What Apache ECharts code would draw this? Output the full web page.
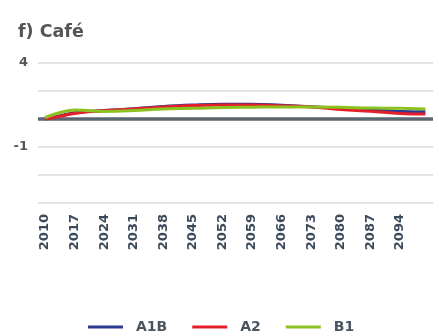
<!DOCTYPE html>
<html>
<head>
<meta charset="utf-8">
<script src="https://cdn.jsdelivr.net/npm/echarts@6/dist/echarts.min.js"></script>
<style>
  html, body { margin: 0; padding: 0; background: #ffffff; }
  #chart { width: 439px; height: 336px; }
</style>
</head>
<body>
<div id="chart"></div>
<script>
// Sample years for each scenario curve
const years = [2010, 2014, 2017, 2020, 2024, 2031, 2038, 2045, 2052, 2059, 2066, 2073, 2080, 2087, 2094, 2100];

// Scenario curves (relative to the baseline)
const a1b = [0.00, 0.13, 0.22, 0.27, 0.30, 0.37, 0.45, 0.50, 0.53, 0.53, 0.49, 0.44, 0.38, 0.32, 0.27, 0.26];
const a2  = [0.00, 0.11, 0.20, 0.26, 0.30, 0.36, 0.43, 0.48, 0.50, 0.50, 0.47, 0.43, 0.34, 0.28, 0.20, 0.18];
const b1  = [0.05, 0.25, 0.32, 0.30, 0.27, 0.30, 0.36, 0.38, 0.41, 0.42, 0.43, 0.43, 0.42, 0.39, 0.38, 0.36];

// Year labels along the bottom
const xTickYears = [2010, 2017, 2024, 2031, 2038, 2045, 2052, 2059, 2066, 2073, 2080, 2087, 2094];

// Value-axis labels: gridline value -> printed text
const yTickValues = [2, -1];
const yTickLabels = ['4', '-1'];

const seriesNames = ['A1B', 'A2', 'B1'];
const seriesColors = ['#2b3990', '#e3202a', '#8cc21f'];
const seriesValues = [a1b, a2, b1];

const FONT = 'DejaVu Sans';

const chart = echarts.init(document.getElementById('chart'), null, { renderer: 'canvas' });

const series = seriesNames.map((name, i) => ({
  name: name,
  type: 'line',
  smooth: 0.4,
  symbol: 'none',
  data: years.map((y, k) => [y, seriesValues[i][k]]),
  lineStyle: { width: 3, color: seriesColors[i] },
  itemStyle: { color: seriesColors[i] },
  z: 3 + i
}));

// Dark zero line across the plot
series[0].markLine = {
  silent: true,
  symbol: 'none',
  label: { show: false },
  lineStyle: { color: '#5b6770', width: 3.5, type: 'solid' },
  data: [{ yAxis: 0 }],
  z: 2
};

chart.setOption({
  animation: false,
  backgroundColor: '#ffffff',
  title: {
    text: 'f) Café',
    left: 13,
    top: 18,
    textStyle: { fontFamily: FONT, fontSize: 17.5, fontWeight: 'bold', color: '#555555' }
  },
  grid: { left: 38, right: 6, top: 63, bottom: 133, containLabel: false },
  xAxis: {
    type: 'value',
    min: 2008.34,
    max: 2101.8,
    axisLine: { show: false, onZero: false },
    axisTick: { show: false },
    splitLine: { show: false },
    axisLabel: {
      customValues: xTickYears,
      rotate: 90,
      margin: 11,
      fontFamily: FONT,
      fontSize: 13,
      fontWeight: 'bold',
      color: '#3b4a5a',
      formatter: v => String(v)
    }
  },
  yAxis: {
    type: 'value',
    min: -3,
    max: 2,
    interval: 1,
    axisLine: { show: false },
    axisTick: { show: false },
    splitLine: { show: true, lineStyle: { color: '#d9d9d9', width: 1.5 } },
    axisLabel: {
      margin: 10,
      fontFamily: FONT,
      fontSize: 13,
      fontWeight: 'bold',
      color: '#555555',
      formatter: v => {
        const k = yTickValues.indexOf(Math.round(v));
        return k >= 0 ? yTickLabels[k] : '';
      }
    }
  },
  legend: {
    data: seriesNames,
    left: 83,
    top: 315,
    icon: 'rect',
    itemWidth: 35,
    itemHeight: 3,
    itemGap: 25,
    textStyle: { fontFamily: FONT, fontSize: 14, fontWeight: 'bold', color: '#4a5561', padding: [0, 0, 0, 8] }
  },
  series: series
});
</script>
</body>
</html>
